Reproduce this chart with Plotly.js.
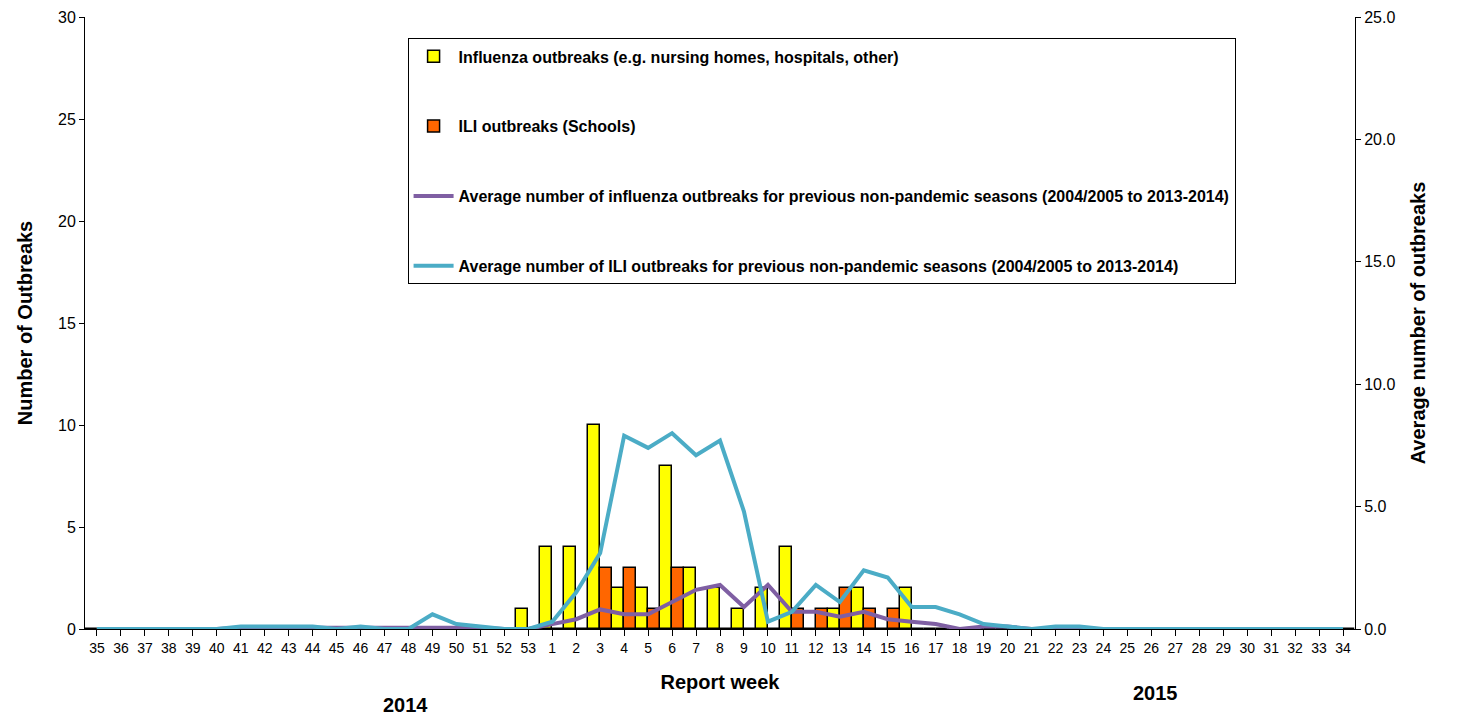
<!DOCTYPE html>
<html>
<head>
<meta charset="utf-8">
<script src="https://cdn.plot.ly/plotly-3.0.1.min.js"></script>
<style>body{margin:0;background:#fff}</style>
</head>
<body>
<div id="chart" style="width:1463px;height:721px"></div>
<script>
const weeks = ['35','36','37','38','39','40','41','42','43','44','45','46','47','48','49','50','51','52','53',
  '1','2','3','4','5','6','7','8','9','10','11','12','13','14','15','16','17','18','19','20','21','22','23','24','25','26','27','28','29','30','31','32','33','34'];
const fluOutbreaks = [0,0,0,0,0,0,0,0,0,0,0,0,0,0,0,0,0,0,1,
  4,4,10,2,2,8,3,2,1,2,4,0,1,2,0,2,0,0,0,0,0,0,0,0,0,0,0,0,0,0,0,0,0,0];
const iliOutbreaks = [0,0,0,0,0,0,0,0,0,0,0,0,0,0,0,0,0,0,0,
  0,0,3,3,1,3,0,0,0,0,1,1,2,1,1,0,0,0,0,0,0,0,0,0,0,0,0,0,0,0,0,0,0,0];
const avgFlu = [0,0,0,0,0,0,0.05,0.05,0.05,0.05,0.05,0.05,0.05,0.05,0.05,0.05,0.05,0,0,
  0.2,0.4,0.8,0.6,0.6,1.1,1.6,1.8,0.9,1.8,0.7,0.7,0.5,0.7,0.4,0.3,0.2,0,0.1,0.1,0,0,0,0,0,0,0,0,0,0,0,0,0,0];
const avgIli = [0,0,0,0,0,0,0.1,0.1,0.1,0.1,0,0.1,0,0,0.6,0.2,0.1,0,0,
  0.3,1.5,3.1,7.9,7.4,8.0,7.1,7.7,4.8,0.3,0.7,1.8,1.1,2.4,2.1,0.9,0.9,0.6,0.2,0.1,0,0.1,0.1,0,0,0,0,0,0,0,0,0,0,0];

const fnt = {family:'"Liberation Sans Narrow", "Liberation Sans", Arial', color:'#000'};
const data = [
  {type:'bar', x:weeks, y:fluOutbreaks, name:'Influenza outbreaks (e.g. nursing homes, hospitals, other)', legendgroup:'a',
   marker:{color:'#ffff00', line:{color:'#000', width:1.5}}},
  {type:'bar', x:weeks, y:iliOutbreaks, name:'ILI outbreaks (Schools)', legendgroup:'b',
   marker:{color:'#ff6600', line:{color:'#000', width:1.5}}},
  {type:'scatter', mode:'lines', x:weeks, y:avgFlu, yaxis:'y2', legendgroup:'c',
   name:'Average number of influenza outbreaks for previous non-pandemic seasons (2004/2005 to 2013-2014)',
   line:{color:'#7f5fa3', width:4}},
  {type:'scatter', mode:'lines', x:weeks, y:avgIli, yaxis:'y2', legendgroup:'d',
   name:'Average number of ILI outbreaks for previous non-pandemic seasons (2004/2005 to 2013-2014)',
   line:{color:'#4bacc6', width:4}}
];
const layout = {
  width:1463, height:721,
  margin:{l:85, r:108, t:17, b:92},
  font:Object.assign({size:14}, fnt),
  barmode:'group', bargap:0, bargroupgap:0,
  showlegend:true,
  legend:{x:0.254, y:0.965, xanchor:'left', yanchor:'top', bordercolor:'#000', borderwidth:1,
    font:Object.assign({size:16, weight:'bold'}, fnt), tracegroupgap:46, itemwidth:40,
    traceorder:'grouped'},
  xaxis:{type:'category', showline:true, linecolor:'#000', ticks:'outside', ticklen:6, tickcolor:'#000',
    tickfont:Object.assign({size:14}, fnt),
    title:{text:'Report week', font:Object.assign({size:20, weight:'bold'}, fnt), standoff:20}},
  yaxis:{range:[0,30], dtick:5, showgrid:false, showline:true, linecolor:'#000', ticks:'outside', tickcolor:'#000',
    zeroline:false, tickfont:Object.assign({size:16}, fnt),
    title:{text:'Number of Outbreaks', font:Object.assign({size:20, weight:'bold'}, fnt), standoff:20}},
  yaxis2:{range:[0,25], dtick:5, tickformat:'.1f', overlaying:'y', side:'right', showgrid:false, showline:true,
    linecolor:'#000', ticks:'outside', tickcolor:'#000', zeroline:false, tickfont:Object.assign({size:16}, fnt),
    title:{text:'Average number of outbreaks', font:Object.assign({size:20, weight:'bold'}, fnt), standoff:16}},
  annotations:[
    {text:'2014', x:0.233, y:-0.145, xref:'paper', yref:'paper', showarrow:false, font:Object.assign({size:20, weight:'bold'}, fnt)},
    {text:'2015', x:0.862, y:-0.125, xref:'paper', yref:'paper', showarrow:false, font:Object.assign({size:20, weight:'bold'}, fnt)}
  ],
  plot_bgcolor:'#fff', paper_bgcolor:'#fff'
};
Plotly.newPlot('chart', data, layout, {displayModeBar:false});
</script>
</body>
</html>
